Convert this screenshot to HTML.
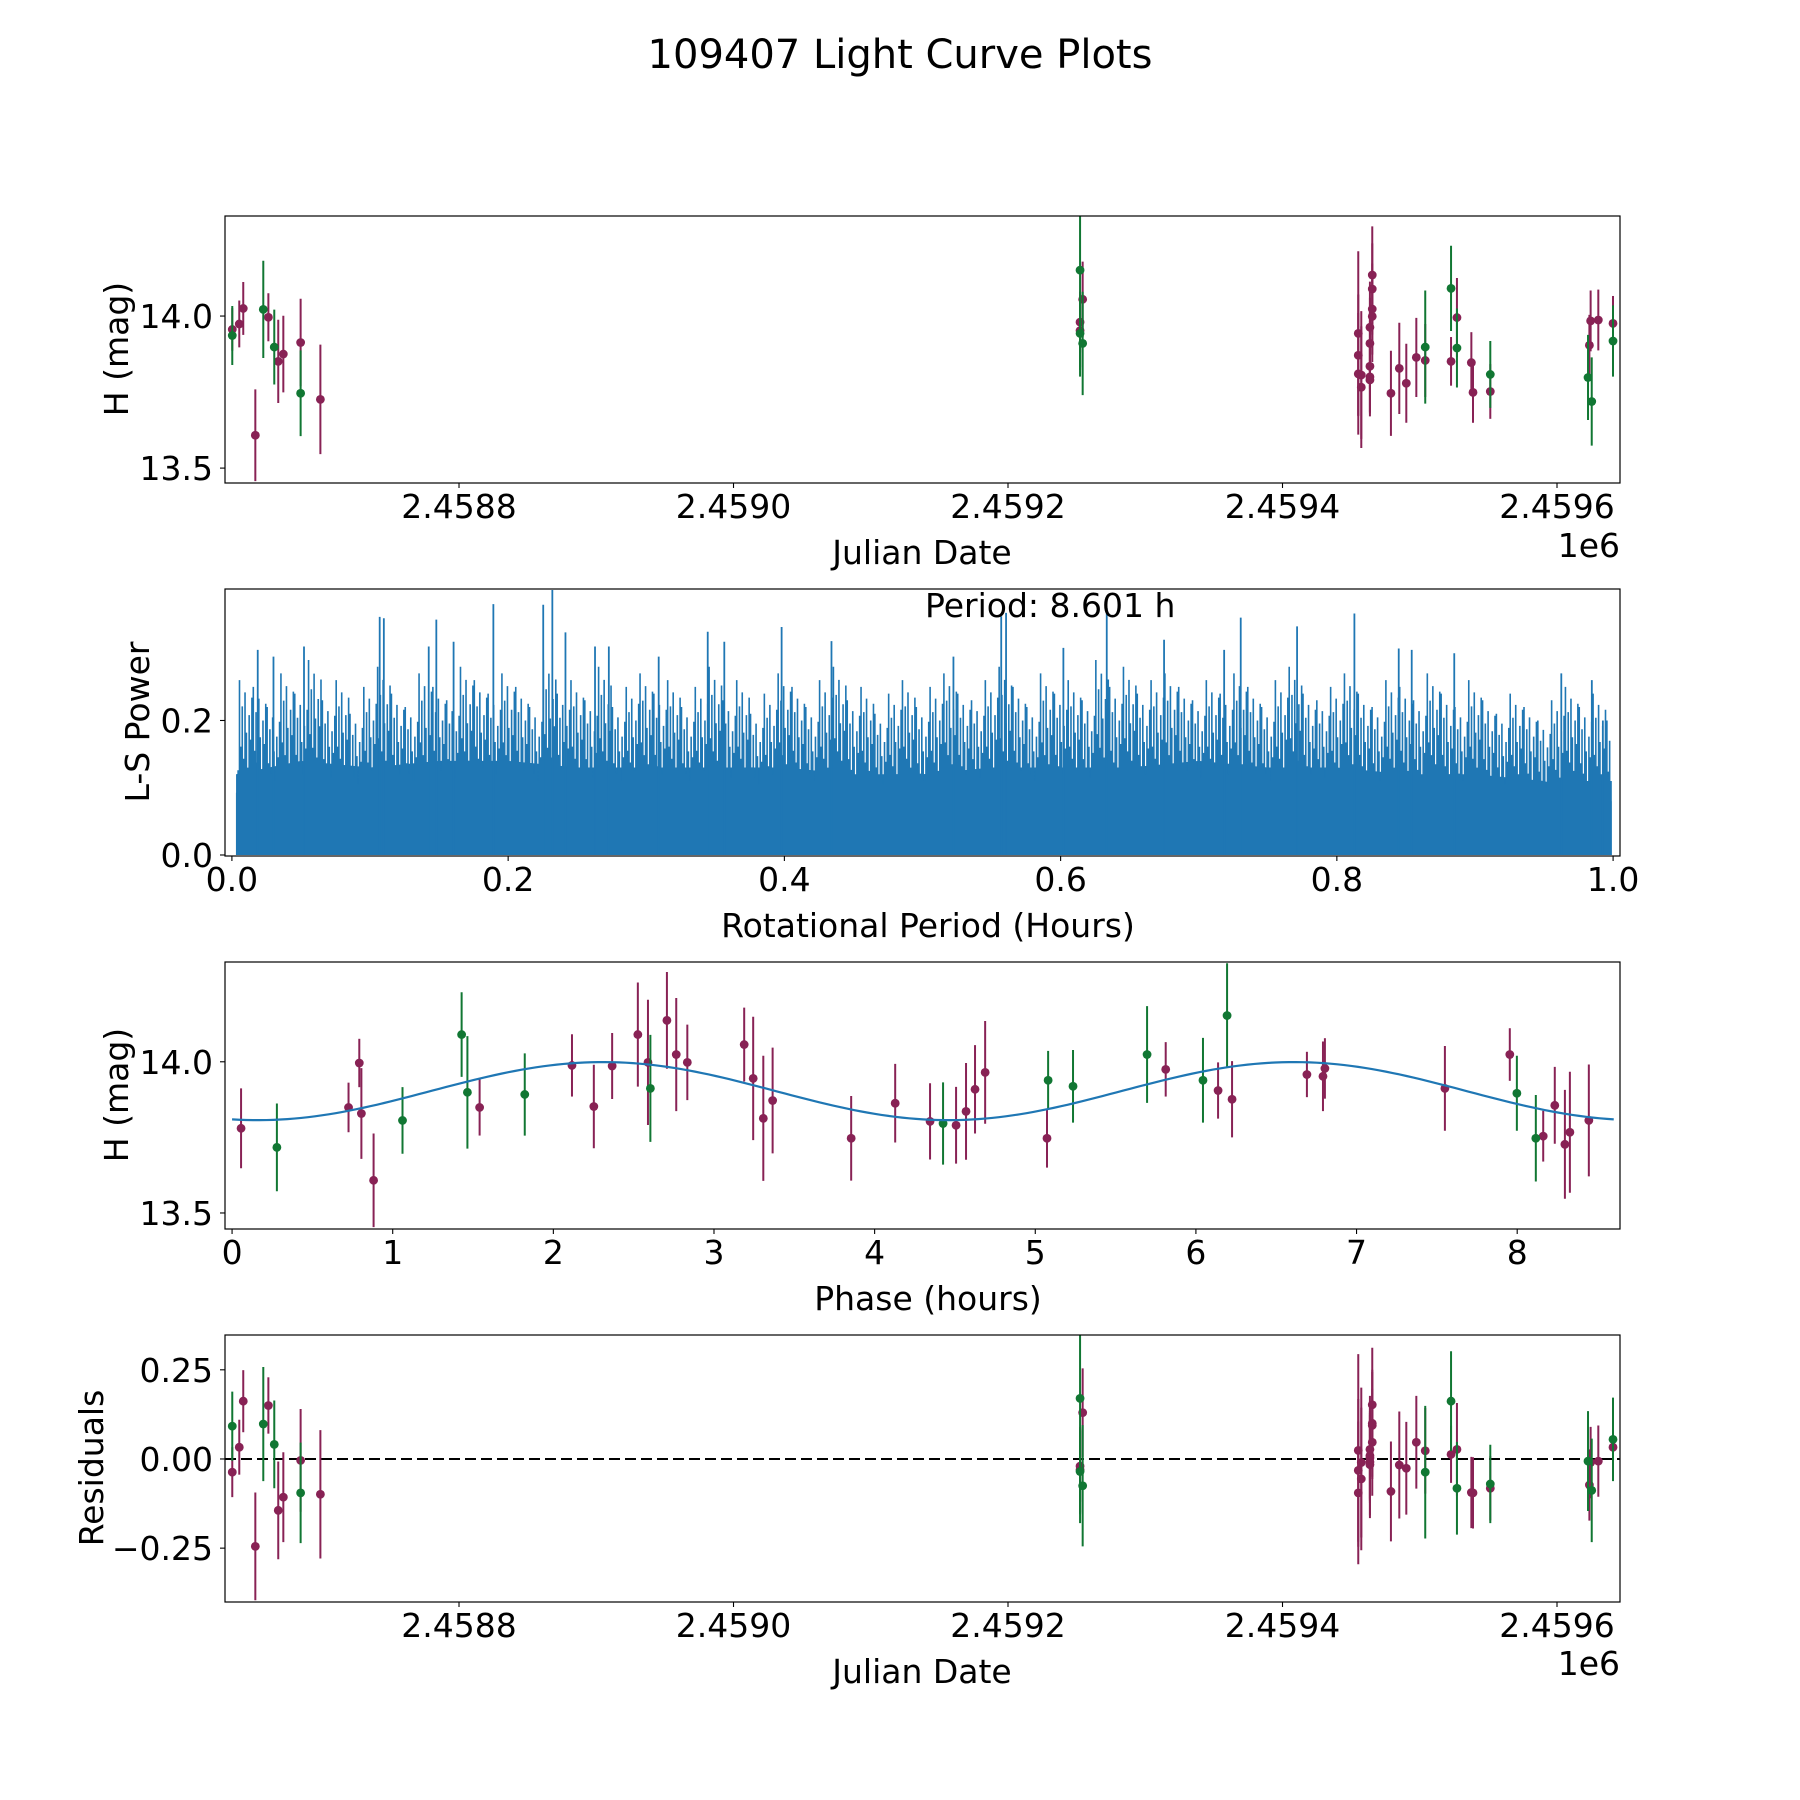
<!DOCTYPE html>
<html><head><meta charset="utf-8"><title>109407 Light Curve Plots</title>
<style>html,body{margin:0;padding:0;background:#fff}svg{display:block}text{font-family:"DejaVu Sans","Liberation Sans",sans-serif;fill:#000}</style>
</head><body>
<svg id="fig" xmlns="http://www.w3.org/2000/svg" width="1800" height="1800" viewBox="0 0 1800 1800">
<rect x="0" y="0" width="1800" height="1800" fill="#fff"/>
<text x="900" y="68" font-size="40" text-anchor="middle">109407 Light Curve Plots</text>
<g id="p1"></g>
<g id="p2"></g>
<g id="p3"></g>
<g id="p4"></g>
<text x="922" y="564" font-size="33" text-anchor="middle">Julian Date</text>
<text x="1620" y="557" font-size="33" text-anchor="end">1e6</text>
<text transform="translate(128,349) rotate(-90)" font-size="33" text-anchor="middle">H (mag)</text>
<text x="928" y="937" font-size="33" text-anchor="middle">Rotational Period (Hours)</text>
<text transform="translate(149,722) rotate(-90)" font-size="33" text-anchor="middle">L-S Power</text>
<text x="925" y="617" font-size="33">Period: 8.601 h</text>
<text x="928" y="1310" font-size="33" text-anchor="middle">Phase (hours)</text>
<text transform="translate(128,1095) rotate(-90)" font-size="33" text-anchor="middle">H (mag)</text>
<text x="922" y="1683" font-size="33" text-anchor="middle">Julian Date</text>
<text x="1620" y="1675" font-size="33" text-anchor="end">1e6</text>
<text transform="translate(103,1468) rotate(-90)" font-size="33" text-anchor="middle">Residuals</text>
</svg>
<script>
// ---------- Light curve data (t = JD - 2458000) ----------
const lcTime = [634.8,634.8,639.9,642.8,651.6,657.4,661.1,665.4,668.3,672.0,684.6,684.6,699.0,
1252.5,1254.4,1252.5,1252.5,1252.5,1254.4,
1455.2,1455.2,1455.2,1457.4,1457.4,1463.7,1463.7,1463.7,1463.7,1463.7,1465.4,1465.4,1465.4,1465.4,
1479.0,1485.1,1490.2,1497.5,1504.0,1504.0,1522.8,1522.8,1527.1,1527.1,1537.6,1538.8,1551.4,1551.4,
1622.6,1623.6,1624.5,1625.3,1630.1,1640.8,1640.8];
const lcMag = [13.956,13.936,13.974,14.025,13.608,14.022,13.996,13.898,13.851,13.875,13.913,13.746,13.726,
14.151,14.055,13.98,13.952,13.943,13.91,
13.943,13.871,13.81,13.806,13.766,13.963,13.91,13.835,13.80,13.79,14.135,14.089,14.023,13.999,
13.746,13.828,13.779,13.864,13.898,13.854,14.091,13.851,13.995,13.895,13.847,13.749,13.808,13.752,
13.798,13.904,13.984,13.719,13.987,13.976,13.918];
const lcErr = [0.07,0.097,0.077,0.087,0.151,0.16,0.079,0.123,0.137,0.126,0.144,0.141,0.18,
0.35,0.124,0.1,0.12,0.12,0.17,
0.27,0.2,0.2,0.21,0.2,0.15,0.15,0.15,0.12,0.12,0.16,0.15,0.15,0.15,
0.14,0.15,0.13,0.13,0.186,0.12,0.14,0.08,0.13,0.13,0.1,0.1,0.11,0.09,
0.14,0.1,0.1,0.145,0.1,0.09,0.117];
const lcFilter = ['m','g','m','m','m','g','m','g','m','m','m','g','m',
'g','m','m','m','g','g',
'm','m','m','m','m','m','m','m','m','m','m','m','m','m',
'm','m','m','m','g','m','g','m','m','g','m','m','g','m',
'g','m','m','g','m','m','g'];
const lcResidual = [-0.037,0.092,0.033,0.162,-0.245,0.098,0.15,0.041,-0.144,-0.107,-0.004,-0.095,-0.099,
0.17,0.13,-0.02,-0.03,-0.035,-0.075,
0.024,-0.032,-0.095,-0.01,-0.056,0.027,-0.008,-0.016,0.009,0.003,0.152,0.1,0.094,0.047,
-0.091,-0.017,-0.026,0.047,-0.037,0.023,0.162,0.013,0.027,-0.082,-0.094,-0.095,-0.07,-0.082,
-0.006,-0.073,-0.01,-0.088,-0.006,0.033,0.055];
const jdTicks = [800,1000,1200,1400,1600];
const jdTickLabels = ['2.4588','2.4590','2.4592','2.4594','2.4596'];
const magTicks = [13.5,14.0];
const magTickLabels = ['13.5','14.0'];
const resTicks = [-0.25,0,0.25];
const resTickLabels = ['\u22120.25','0.00','0.25'];

// ---------- Periodogram ----------
const periodPeak = 8.601;
const lsDenseTop = [0.12,0.14,0.13,0.14,0.14,0.13,0.13,0.13,0.13,0.12,0.12,0.13,0.13,0.13,0.14,0.13,0.13,0.12,0.12,0.11,0.08];
const lsSpikeTop = [0.14,0.26,0.25,0.22,0.27,0.24,0.29,0.23,0.26,0.21,0.25,
0.28,0.24,0.22,0.27,0.25,0.23,0.28,0.26,0.24,0.27,
0.25,0.22,0.29,0.24,0.26,0.23,0.28,0.22,0.25,0.27,
0.24,0.26,0.22,0.25,0.28,0.23,0.26,0.21,0.24,0.27,
0.25,0.22,0.26,0.28,0.23,0.25,0.21,0.24,0.26,0.22,
0.25,0.27,0.24,0.23,0.26,0.28,0.25,0.22,0.27,0.24,
0.26,0.23,0.29,0.25,0.28,0.24,0.26,0.27,0.25,0.23,
0.26,0.24,0.27,0.25,0.22,0.26,0.28,0.24,0.23,0.25,
0.27,0.24,0.22,0.26,0.25,0.23,0.27,0.24,0.22,0.26,
0.23,0.21,0.24,0.22,0.20,0.23,0.25,0.22,0.24,0.20,0.12];
const lsPeakX = [0.232,0.2254,0.1893,0.107,0.110,0.148,0.8127,0.7304,0.7712,0.398,0.5605,0.557,0.6334,0.3445,0.3565,0.4341,0.2415,0.6749,0.7184,0.8542,0.8448,0.885,0.9625,0.9846,0.0522,0.0187,0.0301,0.1425,0.1605,0.2629,0.2729,0.309,0.5224,0.602,0.9926];
const lsPeakPower = [0.394,0.372,0.373,0.354,0.352,0.35,0.359,0.353,0.34,0.339,0.36,0.355,0.367,0.332,0.317,0.318,0.331,0.32,0.305,0.305,0.307,0.30,0.27,0.26,0.31,0.305,0.295,0.31,0.317,0.31,0.31,0.295,0.295,0.308,0.2];
const lsXTicks = [0,0.2,0.4,0.6,0.8,1.0];
const lsXTickLabels = ['0.0','0.2','0.4','0.6','0.8','1.0'];
const lsYTicks = [0,0.2];
const lsYTickLabels = ['0.0','0.2'];

// ---------- Phase-folded ----------
const phPhase = [0.056,0.279,0.725,0.792,0.805,0.881,1.061,1.429,1.465,1.541,1.822,2.116,2.252,2.366,2.526,2.589,2.604,2.707,2.765,2.834,3.188,3.244,3.307,3.365,
3.854,4.128,4.345,4.426,4.507,4.569,4.625,4.688,5.073,5.08,5.235,5.696,5.812,
6.044,6.138,6.194,6.225,6.691,6.791,6.803,7.55,7.954,7.998,8.116,8.162,8.234,8.297,8.328,8.446];
const phMag = [13.78,13.717,13.849,13.996,13.829,13.608,13.806,14.09,13.899,13.849,13.892,13.988,13.852,13.986,14.09,13.998,13.912,14.137,14.024,13.998,14.057,13.945,13.813,13.872,
13.747,13.863,13.803,13.796,13.79,13.836,13.909,13.965,13.747,13.939,13.919,14.024,13.975,
13.939,13.905,14.153,13.876,13.958,13.952,13.978,13.912,14.024,13.896,13.747,13.754,13.856,13.727,13.767,13.806];
const phErr = [0.132,0.145,0.082,0.08,0.15,0.155,0.11,0.14,0.186,0.093,0.136,0.103,0.138,0.109,0.172,0.207,0.177,0.16,0.187,0.125,0.122,0.204,0.207,0.175,
0.14,0.13,0.126,0.136,0.127,0.16,0.146,0.17,0.097,0.097,0.12,0.16,0.09,
0.14,0.093,0.173,0.126,0.075,0.115,0.1,0.14,0.087,0.124,0.143,0.084,0.127,0.18,0.2,0.185];
const phFilter = ['m','g','m','m','m','m','g','g','g','m','g','m','m','m','m','m','g','m','m','m','m','m','m','m',
'm','m','m','g','m','m','m','m','m','g','g','g','m',
'g','m','g','m','m','m','m','m','m','g','g','m','m','m','m','m'];
const modelMean = 13.903;
const modelAmp = 0.096;
const modelPeakPhase = 2.31;
const phXTicks = [0,1,2,3,4,5,6,7,8];
const phXTickLabels = ['0','1','2','3','4','5','6','7','8'];

// ---------- helpers ----------
const NS = 'http://www.w3.org/2000/svg';
const COL = {m:'#882255', g:'#117733'};
const SPIKE_SHAPE = [1,0.62,0.85,0.55,0.93,0.7,0.5,0.8,0.66,0.9];
function mk(parent, tag, attrs){
  const e = document.createElementNS(NS, tag);
  for (const k in attrs) e.setAttribute(k, attrs[k]);
  parent.appendChild(e);
  return e;
}
function linScale(d0,d1,r0,r1){ return v => r0 + (v-d0)*(r1-r0)/(d1-d0); }
const L = 225, R = 1620;
const panels = {p1:[216,483], p2:[589,856], p3:[962,1229], p4:[1335,1602]};

function frame(g, top, bot){
  const r = mk(g,'rect',{x:L,y:top,width:R-L,height:bot-top,fill:'none',stroke:'#000','stroke-width':1.2});
  
  
}
function xTicks(g, vals, labels, sx, bot){
  vals.forEach((v,i)=>{
    const x = sx(v);
    const t = mk(g,'line',{x1:x,x2:x,y1:bot,y2:bot+5,stroke:'#000','stroke-width':1.1});
    
    
    const tx = mk(g,'text',{x:x,y:bot+35,'font-size':33,'text-anchor':'middle'});
    tx.textContent = labels[i];
    
    
  });
}
function yTicks(g, vals, labels, sy){
  vals.forEach((v,i)=>{
    const y = sy(v);
    const t = mk(g,'line',{x1:L-5,x2:L,y1:y,y2:y,stroke:'#000','stroke-width':1.1});
    
    
    const tx = mk(g,'text',{x:L-12,y:y+12,'font-size':33,'text-anchor':'end'});
    tx.textContent = labels[i];
    
    
  });
}
function clipFor(id, top, bot){
  const svg = document.getElementById('fig');
  let defs = svg.querySelector('defs');
  if(!defs){ defs = mk(svg,'defs',{}); svg.insertBefore(defs, svg.firstChild); }
  const cp = mk(defs,'clipPath',{id:id});
  mk(cp,'rect',{x:L,y:top,width:R-L,height:bot-top});
  return 'url(#'+id+')';
}
function errPoints(g, xs, ys, es, fs, sx, sy, name){
  ['m','g'].forEach(f=>{
    xs.forEach((xv,i)=>{
      if(fs[i]!==f) return;
      const x = sx(xv);
      const b = mk(g,'line',{x1:x,x2:x,y1:sy(ys[i]-es[i]),y2:sy(ys[i]+es[i]),stroke:COL[f],'stroke-width':2});
      
      
    });
    xs.forEach((xv,i)=>{
      if(fs[i]!==f) return;
      const c = mk(g,'circle',{cx:sx(xv),cy:sy(ys[i]),r:4.4,fill:COL[f]});
      
      
    });
  });
}

// ---------- Panel 1 ----------
(function(){
  const g = document.getElementById('p1'); const [top,bot] = panels.p1;
  const sx = linScale(629.5,1645.9,L,R);
  const sy = linScale(13.451,14.329,bot,top);
  const dg = mk(g,'g',{'clip-path':clipFor('c1',top,bot)});
  errPoints(dg, lcTime, lcMag, lcErr, lcFilter, sx, sy, 'light-curve');
  frame(g,top,bot);
  xTicks(g, jdTicks, jdTickLabels, sx, bot);
  yTicks(g, magTicks, magTickLabels, sy);
})();

// ---------- Panel 2 ----------
(function(){
  const g = document.getElementById('p2'); const [top,bot] = panels.p2;
  const sx = linScale(-0.005,1.005,L,R);
  const sy = linScale(-0.0015,0.3955,bot,top);
  const dg = mk(g,'g',{'clip-path':clipFor('c2',top,bot)});
  let d = 'M'+sx(0.003)+','+sy(0);
  lsDenseTop.forEach((v,i)=>{ const xv = Math.min(Math.max(i*0.05,0.003),0.999); d += ' L'+sx(xv)+','+sy(v); });
  d += ' L'+sx(0.999)+','+sy(0)+' Z';
  const area = mk(dg,'path',{d:d,fill:'#1f77b4'});
  
  
  let sp = '';
  lsSpikeTop.forEach((v,i)=>{
    SPIKE_SHAPE.forEach((f,k)=>{
      const xv = i*0.01 + (k-4.5)*0.001;
      if (xv < 0.003 || xv > 0.999) return;
      const x = sx(xv).toFixed(2);
      sp += 'M'+x+','+sy(0).toFixed(1)+'V'+sy(v*f).toFixed(1);
    });
  });
  const spikes = mk(dg,'path',{d:sp,fill:'none',stroke:'#1f77b4','stroke-width':1.6});
  
  
  lsPeakX.forEach((xv,i)=>{
    const ln = mk(dg,'line',{x1:sx(xv),x2:sx(xv),y1:sy(0),y2:sy(lsPeakPower[i]),stroke:'#1f77b4','stroke-width':1.8});
    
    
  });
  frame(g,top,bot);
  xTicks(g, lsXTicks, lsXTickLabels, sx, bot);
  yTicks(g, lsYTicks, lsYTickLabels, sy);
})();

// ---------- Panel 3 ----------
(function(){
  const g = document.getElementById('p3'); const [top,bot] = panels.p3;
  const sx = linScale(-0.044,8.64,L,R);
  const sy = linScale(13.447,14.33,bot,top);
  const dg = mk(g,'g',{'clip-path':clipFor('c3',top,bot)});
  errPoints(dg, phPhase, phMag, phErr, phFilter, sx, sy, 'phase');
  let d = '';
  const half = periodPeak/2;
  for(let i=0;i<=200;i++){
    const p = periodPeak*i/200;
    const m = modelMean + modelAmp*Math.cos(2*Math.PI*(p-modelPeakPhase)/half);
    d += (i?' L':'M')+sx(p).toFixed(2)+','+sy(m).toFixed(2);
  }
  const curve = mk(dg,'path',{d:d,fill:'none',stroke:'#1f77b4','stroke-width':2.2});
  
  
  frame(g,top,bot);
  xTicks(g, phXTicks, phXTickLabels, sx, bot);
  yTicks(g, magTicks, magTickLabels, sy);
})();

// ---------- Panel 4 ----------
(function(){
  const g = document.getElementById('p4'); const [top,bot] = panels.p4;
  const sx = linScale(629.5,1645.9,L,R);
  const sy = linScale(-0.401,0.3476,bot,top);
  const dg = mk(g,'g',{'clip-path':clipFor('c4',top,bot)});
  const z = mk(dg,'line',{x1:L,x2:R,y1:sy(0),y2:sy(0),stroke:'#000','stroke-width':2,'stroke-dasharray':'11,5'});
  
  
  errPoints(dg, lcTime, lcResidual, lcErr, lcFilter, sx, sy, 'residual');
  frame(g,top,bot);
  xTicks(g, jdTicks, jdTickLabels, sx, bot);
  yTicks(g, resTicks, resTickLabels, sy);
})();
</script>
</body></html>
